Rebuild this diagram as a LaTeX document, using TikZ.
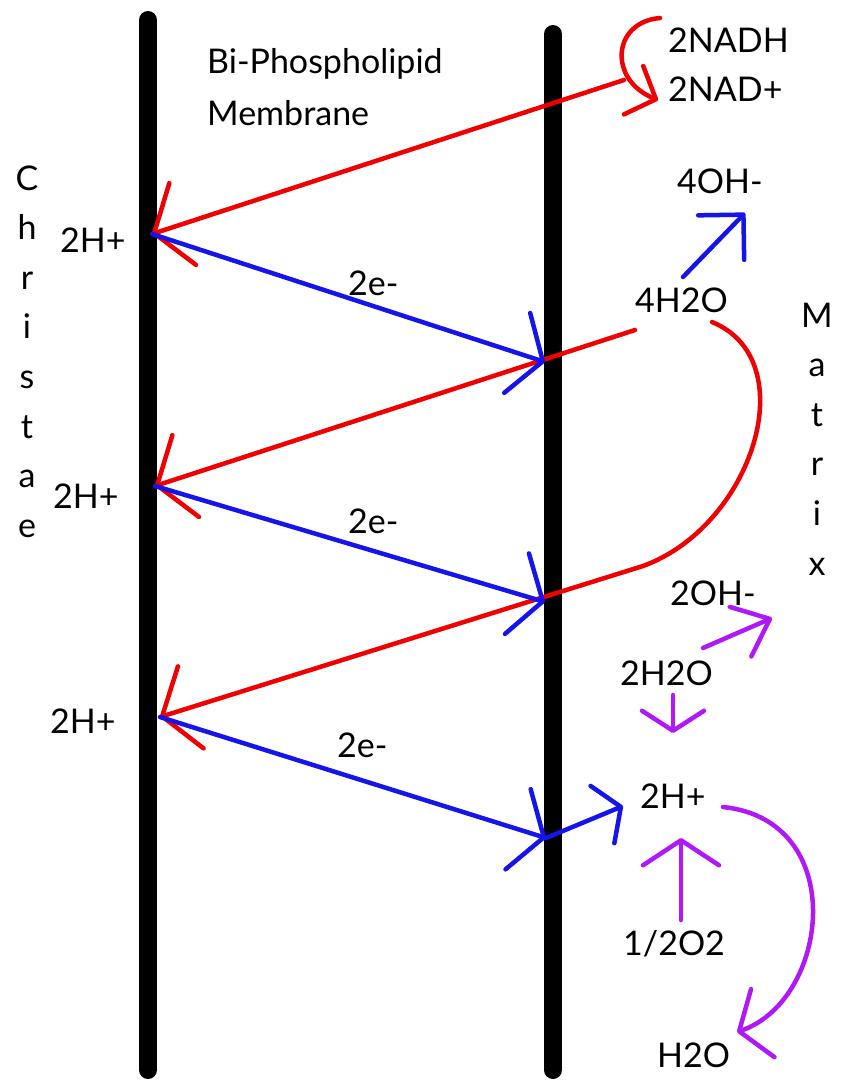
\documentclass[tikz,border=0pt]{standalone}
\usepackage{fontspec}
\setmainfont{Lato}
\usetikzlibrary{arrows.meta}
\definecolor{myred}{RGB}{240,0,0}
\definecolor{myblue}{RGB}{20,20,235}
\definecolor{mypurple}{RGB}{175,25,250}
\begin{document}
\begin{tikzpicture}[x=1pt,y=-1pt,
  lab/.style={inner sep=0pt, font=\fontsize{34}{40}\selectfont, text=black},
  membrane/.style={line width=18pt, line cap=round, black},
  conn/.style={line width=4.5pt, line cap=round},
  redc/.style={conn, myred},
  bluec/.style={conn, myblue},
  purc/.style={conn, mypurple},
  barb/.style 2 args={-{Straight Barb[length=#1pt,width=#2pt,round]}},
]
\useasboundingbox (0,0) rectangle (844,1085);
\fill[white] (0,0) rectangle (844,1085);

% membranes
\coordinate (lmt) at (148,20);
\coordinate (lmb) at (148,1070);
\coordinate (rmt) at (553,34);
\coordinate (rmb) at (553,1070);
\draw[membrane] (lmt) -- (lmb);
\draw[membrane] (rmt) -- (rmb);

% points on membranes
\coordinate (L1) at (152,234);
\coordinate (L2) at (155,486);
\coordinate (L3) at (160,717);
\coordinate (R1) at (545,362);
\coordinate (R2) at (545,602);
\coordinate (R3) at (546,838);

% other anchor points
\coordinate (nadend) at (624,80);
\coordinate (nadA) at (660,18);
\coordinate (nadB) at (658,100);
\coordinate (r2start) at (635,330);
\coordinate (arcA) at (712,322);
\coordinate (arcB) at (643,566);
\coordinate (bend) at (623,806);
\coordinate (b4a) at (683,277);
\coordinate (b4b) at (745,213);
\coordinate (p1a) at (703,648);
\coordinate (p1b) at (772,618);
\coordinate (p2a) at (673,695);
\coordinate (p2b) at (673,733);
\coordinate (p3a) at (681,920);
\coordinate (p3b) at (681,838);
\coordinate (p4a) at (723,807);
\coordinate (p4b) at (737,1032);

% red connectors
\draw[redc, barb={24}{52}] (nadA) .. controls (612,22) and (608,80) .. (nadB);
\draw[redc, barb={30}{86}] (nadend) -- (L1);
\draw[redc, barb={30}{86}] (r2start) -- (L2);
\draw[redc, barb={30}{86}] (arcA) .. controls (805,360) and (753,526) .. (arcB) -- (L3);

% blue connectors
\draw[bluec, barb={27}{84}] (L1) -- (R1);
\draw[bluec, barb={27}{84}] (L2) -- (R2);
\draw[bluec, barb={27}{84}] (L3) -- (R3);
\draw[bluec, barb={20}{62}] (R3) -- (bend);
\draw[bluec, barb={32}{64}] (b4a) -- (b4b);

% purple connectors
\draw[purc, barb={32}{54}] (p1a) -- (p1b);
\draw[purc, barb={20}{62}] (p2a) -- (p2b);
\draw[purc, barb={25}{76}] (p3a) -- (p3b);
\draw[purc, barb={25}{72}] (p4a) .. controls (850,820) and (830,1000) .. (p4b);

% texts
\node[lab, anchor=base west] (bip) at (207,73) {Bi-Phospholipid};
\node[lab, anchor=base west] (mem) at (207,125) {Membrane};
\node[lab, anchor=base west] (nadh) at (668,52) {2NADH};
\node[lab, anchor=base west] (nad) at (668,101) {2NAD+};
\node[lab, anchor=base west] (oh4) at (677,193) {4OH-};
\node[lab, anchor=base west] (h2o4) at (635,312) {4H2O};
\node[lab, anchor=base west] (oh2) at (670,605) {2OH-};
\node[lab, anchor=base west] (h2o2) at (620,685) {2H2O};
\node[lab, anchor=base west] (hp4) at (640,808) {2H+};
\node[lab, anchor=base west] (o2) at (623,955) {1/2O2};
\node[lab, anchor=base west] (h2o) at (657,1067) {H2O};
\node[lab, anchor=base west] (hp1) at (60,252) {2H+};
\node[lab, anchor=base west] (hp2) at (53,508) {2H+};
\node[lab, anchor=base west] (hp3) at (50,733) {2H+};
\node[lab, anchor=base west] (e1) at (348,295) {2e-};
\node[lab, anchor=base west] (e2) at (348,533) {2e-};
\node[lab, anchor=base west] (e3) at (337,757) {2e-};

% vertical words
\foreach \ch [count=\i from 0] in {C,h,r,i,s,t,a,e}
  \node[lab, anchor=base] (chr\i) at (27,190+49.6*\i) {\ch};
\foreach \ch [count=\i from 0] in {M,a,t,r,i,x}
  \node[lab, anchor=base] (mat\i) at (817,327+49.6*\i) {\ch};
\end{tikzpicture}
\end{document}
